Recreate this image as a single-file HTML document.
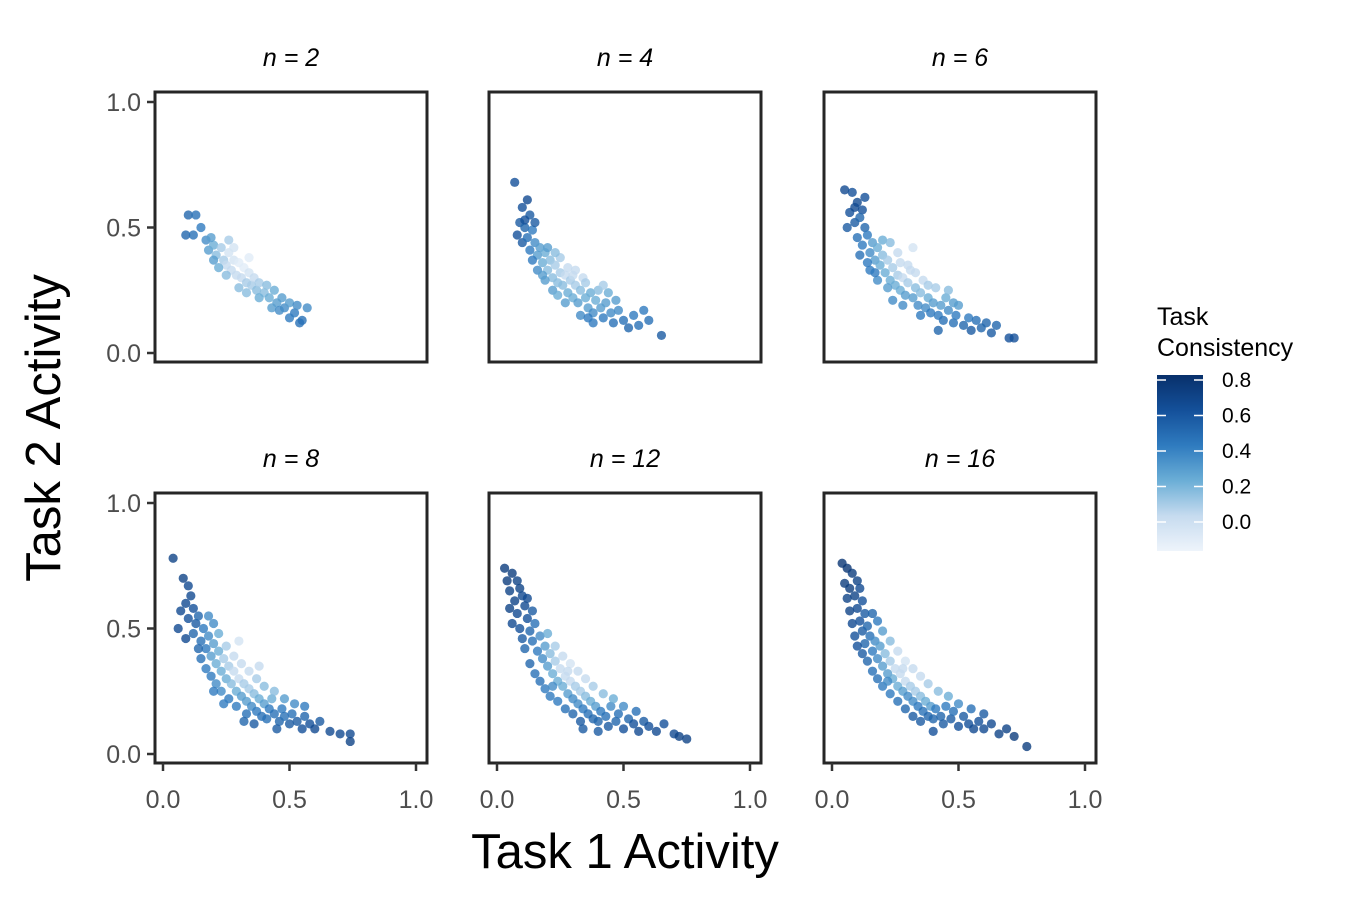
<!DOCTYPE html>
<html><head><meta charset="utf-8"><style>
body{margin:0;background:#fff;}
svg text{font-family:"Liberation Sans",Arial,sans-serif;}
</style></head><body>
<svg id="chart" width="1350" height="900" xmlns="http://www.w3.org/2000/svg">
<defs><linearGradient id="lg" x1="0" y1="1" x2="0" y2="0">
<stop offset="0" stop-color="#eef4fb"/><stop offset="0.2" stop-color="#c6dbef"/><stop offset="0.4" stop-color="#6baed6"/><stop offset="0.6" stop-color="#2f7bbf"/><stop offset="0.8" stop-color="#14509a"/><stop offset="1" stop-color="#08306b"/></linearGradient></defs>
<g id="panels"></g>
<text x="625" y="868" font-size="49" text-anchor="middle">Task 1 Activity</text>
<text transform="translate(60,428) rotate(-90)" font-size="49" text-anchor="middle">Task 2 Activity</text>
<g>
<text x="1157" y="325" font-size="25">Task</text>
<text x="1157" y="356" font-size="25">Consistency</text>
<rect x="1157" y="375" width="46" height="176" fill="url(#lg)"/>
<g id="legticks"></g>
</g>
</svg>
<script>
const panelTitles=["n = 2","n = 4","n = 6","n = 8","n = 12","n = 16"];
const tickVals=[0,0.5,1];
const tickLabels=["0.0","0.5","1.0"];
const legendVals=[0.8,0.6,0.4,0.2,0.0];
const legendLabels=["0.8","0.6","0.4","0.2","0.0"];
const pts2="0.10,0.55,0.4;0.13,0.55,0.35;0.09,0.47,0.4;0.12,0.47,0.35;0.15,0.50,0.3;0.17,0.45,0.25;0.18,0.41,0.2;0.20,0.43,0.15;0.21,0.39,0.1;0.23,0.42,0.05;0.24,0.37,0.05;0.25,0.35,0;0.26,0.40,-0.05;0.27,0.33,0;0.28,0.37,-0.05;0.29,0.31,0;0.30,0.36,-0.1;0.31,0.30,0;0.32,0.34,-0.1;0.33,0.28,0.05;0.34,0.32,-0.05;0.35,0.27,0.05;0.36,0.30,0;0.37,0.25,0.1;0.38,0.28,0.05;0.40,0.24,0.1;0.41,0.27,0.1;0.42,0.22,0.15;0.44,0.25,0.15;0.45,0.20,0.2;0.47,0.22,0.2;0.48,0.18,0.25;0.50,0.20,0.2;0.52,0.16,0.3;0.53,0.19,0.25;0.55,0.13,0.35;0.57,0.18,0.25;0.50,0.14,0.3;0.22,0.34,0.15;0.30,0.26,0.1;0.26,0.45,0.05;0.34,0.38,-0.1;0.38,0.22,0.15;0.20,0.37,0.2;0.28,0.42,-0.05;0.43,0.18,0.2;0.19,0.46,0.2;0.25,0.31,0.1;0.33,0.24,0.1;0.46,0.17,0.25;0.54,0.12,0.35";
const pts4="0.07,0.68,0.5;0.10,0.58,0.5;0.12,0.61,0.55;0.09,0.52,0.45;0.08,0.47,0.5;0.11,0.50,0.4;0.13,0.55,0.45;0.10,0.44,0.45;0.12,0.46,0.35;0.14,0.49,0.3;0.13,0.41,0.3;0.15,0.44,0.25;0.16,0.39,0.2;0.17,0.42,0.2;0.18,0.36,0.15;0.19,0.40,0.15;0.20,0.33,0.1;0.21,0.37,0.1;0.22,0.30,0.1;0.23,0.35,0.05;0.24,0.28,0.1;0.25,0.32,0.05;0.26,0.27,0.1;0.27,0.31,0.0;0.28,0.24,0.15;0.29,0.29,0.05;0.30,0.22,0.15;0.31,0.27,0.05;0.32,0.20,0.2;0.33,0.25,0.1;0.34,0.30,0.0;0.35,0.22,0.15;0.36,0.18,0.2;0.37,0.24,0.15;0.38,0.16,0.25;0.39,0.21,0.15;0.40,0.25,0.1;0.41,0.18,0.2;0.42,0.14,0.3;0.43,0.20,0.2;0.45,0.16,0.25;0.46,0.12,0.35;0.48,0.17,0.25;0.50,0.13,0.35;0.52,0.10,0.4;0.54,0.15,0.3;0.56,0.11,0.35;0.58,0.17,0.3;0.60,0.13,0.35;0.65,0.07,0.45;0.20,0.42,0.2;0.16,0.33,0.25;0.25,0.38,0.05;0.19,0.29,0.2;0.28,0.34,0.0;0.22,0.25,0.2;0.30,0.31,0.0;0.35,0.28,0.05;0.27,0.20,0.2;0.44,0.24,0.15;0.38,0.12,0.3;0.14,0.37,0.3;0.33,0.15,0.25;0.47,0.21,0.2;0.42,0.27,0.05;0.24,0.23,0.15;0.18,0.31,0.2;0.11,0.53,0.5;0.15,0.52,0.45;0.23,0.40,0.1;0.31,0.33,0.0;0.36,0.14,0.3";
const pts6="0.05,0.65,0.55;0.08,0.64,0.5;0.10,0.60,0.55;0.07,0.56,0.5;0.12,0.57,0.5;0.09,0.52,0.45;0.06,0.50,0.45;0.11,0.54,0.4;0.13,0.50,0.4;0.10,0.46,0.35;0.12,0.43,0.3;0.14,0.47,0.3;0.15,0.40,0.25;0.16,0.44,0.2;0.17,0.37,0.2;0.18,0.42,0.15;0.19,0.35,0.15;0.20,0.39,0.1;0.21,0.32,0.15;0.22,0.37,0.05;0.23,0.29,0.15;0.24,0.34,0.05;0.25,0.27,0.15;0.26,0.31,0.05;0.27,0.25,0.15;0.28,0.30,0.0;0.29,0.23,0.2;0.30,0.28,0.05;0.31,0.33,0.0;0.32,0.22,0.2;0.33,0.26,0.1;0.34,0.19,0.25;0.35,0.24,0.1;0.36,0.29,0.0;0.37,0.18,0.25;0.38,0.22,0.15;0.39,0.16,0.3;0.40,0.20,0.2;0.41,0.26,0.05;0.42,0.15,0.3;0.43,0.19,0.2;0.44,0.13,0.35;0.45,0.22,0.15;0.46,0.17,0.25;0.48,0.12,0.35;0.49,0.15,0.3;0.50,0.19,0.2;0.52,0.11,0.4;0.54,0.14,0.3;0.55,0.09,0.45;0.57,0.13,0.35;0.59,0.10,0.4;0.61,0.12,0.4;0.63,0.08,0.45;0.65,0.11,0.4;0.70,0.06,0.5;0.72,0.06,0.5;0.15,0.33,0.3;0.18,0.29,0.25;0.22,0.26,0.2;0.14,0.36,0.3;0.20,0.45,0.15;0.26,0.40,0.0;0.30,0.35,0.0;0.33,0.32,0.0;0.28,0.19,0.25;0.35,0.15,0.3;0.24,0.21,0.25;0.38,0.27,0.05;0.46,0.25,0.1;0.42,0.09,0.4;0.48,0.20,0.2;0.17,0.32,0.3;0.32,0.42,-0.05;0.09,0.58,0.55;0.13,0.62,0.5;0.11,0.39,0.35;0.23,0.44,0.1;0.27,0.36,0.0";
const pts8="0.04,0.78,0.6;0.08,0.70,0.6;0.10,0.67,0.55;0.09,0.60,0.55;0.11,0.63,0.55;0.07,0.57,0.55;0.12,0.58,0.5;0.10,0.54,0.5;0.06,0.50,0.55;0.09,0.46,0.55;0.13,0.52,0.45;0.12,0.48,0.4;0.14,0.55,0.4;0.15,0.45,0.35;0.16,0.50,0.3;0.17,0.42,0.3;0.18,0.47,0.25;0.19,0.39,0.2;0.20,0.44,0.2;0.21,0.36,0.15;0.22,0.41,0.15;0.23,0.33,0.15;0.24,0.38,0.05;0.25,0.30,0.15;0.26,0.35,0.05;0.27,0.28,0.1;0.28,0.33,0.0;0.29,0.25,0.15;0.30,0.30,0.0;0.31,0.23,0.2;0.32,0.28,0.05;0.33,0.21,0.2;0.34,0.26,0.05;0.35,0.19,0.25;0.36,0.24,0.1;0.37,0.17,0.3;0.38,0.22,0.15;0.39,0.15,0.35;0.40,0.20,0.2;0.41,0.14,0.35;0.42,0.18,0.3;0.43,0.22,0.15;0.44,0.16,0.35;0.46,0.13,0.4;0.47,0.18,0.3;0.48,0.15,0.35;0.50,0.12,0.45;0.51,0.16,0.35;0.53,0.13,0.45;0.55,0.10,0.5;0.56,0.15,0.4;0.58,0.12,0.5;0.60,0.10,0.55;0.62,0.13,0.45;0.66,0.09,0.55;0.70,0.08,0.55;0.74,0.05,0.6;0.74,0.08,0.55;0.15,0.38,0.35;0.17,0.34,0.3;0.19,0.31,0.3;0.21,0.28,0.25;0.23,0.25,0.25;0.26,0.22,0.3;0.22,0.48,0.15;0.25,0.43,0.05;0.28,0.39,0.0;0.31,0.36,0.0;0.34,0.33,0.0;0.37,0.30,0.05;0.40,0.27,0.1;0.44,0.25,0.1;0.48,0.22,0.2;0.52,0.20,0.25;0.29,0.19,0.3;0.33,0.16,0.35;0.18,0.55,0.25;0.20,0.52,0.25;0.14,0.42,0.4;0.36,0.12,0.45;0.45,0.10,0.45;0.20,0.25,0.3;0.24,0.20,0.3;0.30,0.45,-0.05;0.38,0.35,0.0;0.56,0.19,0.3;0.32,0.13,0.4";
const pts12="0.03,0.74,0.65;0.06,0.72,0.65;0.08,0.69,0.6;0.05,0.65,0.6;0.09,0.66,0.6;0.07,0.61,0.6;0.10,0.63,0.55;0.05,0.58,0.6;0.08,0.56,0.55;0.11,0.59,0.55;0.06,0.52,0.55;0.09,0.50,0.5;0.12,0.54,0.5;0.10,0.46,0.45;0.13,0.49,0.4;0.11,0.42,0.4;0.14,0.45,0.35;0.15,0.52,0.35;0.16,0.41,0.3;0.17,0.47,0.25;0.18,0.38,0.25;0.19,0.43,0.2;0.20,0.35,0.2;0.21,0.40,0.1;0.22,0.32,0.15;0.23,0.37,0.05;0.24,0.29,0.15;0.25,0.34,0.0;0.26,0.27,0.15;0.27,0.31,0.0;0.28,0.24,0.2;0.29,0.29,0.0;0.30,0.22,0.25;0.31,0.27,0.05;0.32,0.20,0.25;0.33,0.25,0.05;0.34,0.18,0.3;0.35,0.23,0.1;0.36,0.16,0.35;0.37,0.21,0.15;0.38,0.14,0.4;0.39,0.19,0.2;0.40,0.13,0.4;0.41,0.17,0.3;0.43,0.15,0.35;0.44,0.11,0.45;0.45,0.19,0.25;0.47,0.13,0.4;0.48,0.16,0.35;0.50,0.10,0.5;0.52,0.14,0.4;0.54,0.12,0.5;0.56,0.09,0.55;0.58,0.13,0.45;0.60,0.11,0.5;0.63,0.09,0.55;0.66,0.12,0.5;0.70,0.08,0.55;0.72,0.07,0.6;0.75,0.06,0.6;0.13,0.36,0.4;0.15,0.32,0.35;0.17,0.29,0.35;0.19,0.26,0.3;0.21,0.23,0.3;0.24,0.21,0.3;0.27,0.18,0.35;0.30,0.16,0.4;0.33,0.13,0.45;0.20,0.48,0.15;0.23,0.43,0.05;0.26,0.39,0.0;0.29,0.36,-0.05;0.32,0.33,0.0;0.35,0.30,0.0;0.38,0.27,0.05;0.42,0.24,0.1;0.46,0.22,0.15;0.50,0.19,0.25;0.12,0.62,0.55;0.14,0.57,0.45;0.04,0.69,0.65;0.22,0.27,0.25;0.28,0.33,0.0;0.34,0.10,0.45;0.40,0.09,0.45;0.55,0.17,0.35";
const pts16="0.04,0.76,0.7;0.06,0.74,0.7;0.08,0.72,0.65;0.05,0.68,0.65;0.07,0.66,0.65;0.10,0.69,0.6;0.06,0.62,0.6;0.09,0.63,0.6;0.11,0.66,0.55;0.07,0.57,0.6;0.10,0.58,0.55;0.12,0.61,0.5;0.08,0.52,0.55;0.11,0.53,0.5;0.13,0.56,0.45;0.09,0.47,0.5;0.12,0.49,0.45;0.14,0.51,0.4;0.13,0.44,0.4;0.15,0.47,0.35;0.16,0.41,0.3;0.17,0.45,0.25;0.18,0.38,0.25;0.19,0.43,0.2;0.20,0.35,0.2;0.21,0.40,0.1;0.22,0.32,0.2;0.23,0.37,0.05;0.24,0.30,0.15;0.25,0.34,0.0;0.26,0.27,0.15;0.27,0.32,0.0;0.28,0.25,0.2;0.29,0.29,0.0;0.30,0.23,0.25;0.31,0.27,0.05;0.32,0.21,0.25;0.33,0.25,0.05;0.34,0.19,0.3;0.35,0.23,0.1;0.36,0.17,0.35;0.37,0.21,0.15;0.38,0.15,0.4;0.39,0.19,0.2;0.40,0.14,0.4;0.41,0.18,0.3;0.43,0.15,0.4;0.44,0.12,0.45;0.45,0.19,0.3;0.47,0.14,0.45;0.48,0.17,0.35;0.50,0.11,0.5;0.52,0.15,0.45;0.54,0.12,0.5;0.56,0.10,0.55;0.58,0.13,0.5;0.60,0.10,0.55;0.63,0.12,0.55;0.66,0.08,0.6;0.69,0.10,0.6;0.72,0.07,0.65;0.77,0.03,0.65;0.14,0.37,0.4;0.16,0.33,0.35;0.18,0.30,0.35;0.20,0.27,0.3;0.23,0.24,0.3;0.26,0.21,0.35;0.29,0.18,0.4;0.32,0.15,0.45;0.35,0.13,0.45;0.20,0.49,0.2;0.23,0.45,0.1;0.26,0.41,0.0;0.29,0.37,-0.05;0.32,0.34,0.0;0.35,0.31,0.0;0.38,0.28,0.05;0.42,0.25,0.1;0.46,0.23,0.15;0.50,0.20,0.25;0.16,0.56,0.4;0.18,0.53,0.3;0.12,0.40,0.45;0.22,0.29,0.25;0.28,0.34,0.0;0.40,0.09,0.5;0.55,0.18,0.35;0.60,0.16,0.45;0.10,0.43,0.5";
const panelPoints=[pts2,pts4,pts6,pts8,pts12,pts16];

const NS="http://www.w3.org/2000/svg";
const stops=[[-0.1,[238,244,251]],[0.05,[198,219,239]],[0.2,[107,174,214]],[0.35,[47,123,191]],[0.55,[20,80,154]],[0.8,[8,48,107]]];
function colorScale(c){
  if(c<=stops[0][0])return "rgb("+stops[0][1]+")";
  for(let i=1;i<stops.length;i++){
    if(c<=stops[i][0]){const t=(c-stops[i-1][0])/(stops[i][0]-stops[i-1][0]);
      const a=stops[i-1][1],b=stops[i][1];
      return "rgb("+a.map((v,k)=>Math.round(v+(b[k]-v)*t)).join(",")+")";}
  }
  return "rgb("+stops[stops.length-1][1]+")";
}
const colX=[155,489,824], rowY=[92,493], PW=272, PH=270;
const g=document.getElementById("panels");
function mk(tag,attrs,parent){const e=document.createElementNS(NS,tag);for(const k in attrs)e.setAttribute(k,attrs[k]);parent.appendChild(e);return e;}
panelPoints.forEach((str,p)=>{
  const r=Math.floor(p/3),c=p%3,L=colX[c],T=rowY[r];
  const xs=x=>L+8+x*253, ys=y=>T+PH-9-y*251;
  const pg=mk("g",{},g);
  
  
  const t=mk("text",{x:L+PW/2,y:T-26,"font-size":25,"font-style":"italic","text-anchor":"middle"},pg);
  t.textContent=panelTitles[p];
  
  
  str.split(";").forEach(s=>{const [x,y,v]=s.split(",").map(Number);
    const d=mk("circle",{cx:xs(x),cy:ys(y),r:4.6,fill:colorScale(v+0.05),"fill-opacity":0.8},pg);
    
    });
  const fr=mk("rect",{x:L,y:T,width:PW,height:PH,fill:"none",stroke:"#262626","stroke-width":3},pg);
  
  
  if(c===0){tickVals.forEach((v,i)=>{
    mk("line",{x1:L-8,x2:L,y1:ys(v),y2:ys(v),stroke:"#333","stroke-width":2.5},pg);
    const tl=mk("text",{x:L-14,y:ys(v)+9,"font-size":25,fill:"#4d4d4d","text-anchor":"end"},pg);
    tl.textContent=tickLabels[i];
    
    });}
  if(r===1){tickVals.forEach((v,i)=>{
    mk("line",{x1:xs(v),x2:xs(v),y1:T+PH,y2:T+PH+8,stroke:"#333","stroke-width":2.5},pg);
    const tl=mk("text",{x:xs(v),y:T+PH+45,"font-size":25,fill:"#4d4d4d","text-anchor":"middle"},pg);
    tl.textContent=tickLabels[i];
    
    });}
});
const lt=document.getElementById("legticks");
const legY=v=>522-(v-0)*(142/0.8);
legendVals.forEach((v,i)=>{
  mk("line",{x1:1157,x2:1166,y1:legY(v),y2:legY(v),stroke:"#fff","stroke-width":1.5},lt);
  mk("line",{x1:1194,x2:1203,y1:legY(v),y2:legY(v),stroke:"#fff","stroke-width":1.5},lt);
  const tl=mk("text",{x:1222,y:legY(v)+7,"font-size":21},lt);
  tl.textContent=legendLabels[i];
  
  
});
</script>
</body></html>
